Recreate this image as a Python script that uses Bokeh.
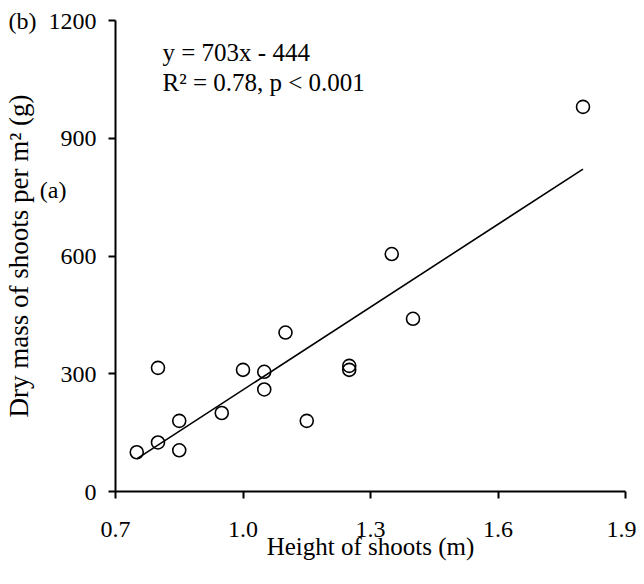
from bokeh.plotting import figure
from bokeh.models import Range1d, Label, FixedTicker, LinearAxis
from bokeh.embed import file_html
from bokeh.resources import INLINE

# Data
height_m = [0.75, 0.80, 0.85, 0.85, 0.80, 0.95, 1.00, 1.05, 1.05, 1.10, 1.15, 1.25, 1.25, 1.35, 1.40, 1.80]
dry_mass = [100, 125, 105, 180, 315, 200, 310, 305, 260, 405, 180, 320, 310, 605, 440, 980]

slope = 703
intercept = -444
fit_x = [0.75, 1.80]
fit_y = [slope * x + intercept for x in fit_x]

x_ticks = [0.7, 1.0, 1.3, 1.6, 1.9]
y_ticks = [0, 300, 600, 900, 1200]
panel_mark_b = "(b)"
panel_mark_a = "(a)"
panel_mark_a_y = 767

FONT = "Liberation Serif"
NB = "\u00a0"

p = figure(width=636, height=568, output_backend="svg", toolbar_location=None,
           x_range=Range1d(0.7, 1.9), y_range=Range1d(0, 1200),
           y_axis_location=None,
           min_border_left=115, min_border_right=11, min_border_top=20, min_border_bottom=77)

p.outline_line_color = None
p.grid.visible = False
p.background_fill_color = "white"

p.line(fit_x, fit_y, line_color="black", line_width=1.6)
p.scatter(height_m, dry_mass, marker="circle", size=13, fill_color=None,
          line_color="black", line_width=1.6)

# x axis
xa = p.xaxis[0]
xa.ticker = FixedTicker(ticks=x_ticks)
xa.major_label_overrides = {t: f"{t:.1f}" for t in x_ticks}
xa.axis_line_color = "black"
xa.axis_line_width = 2
xa.major_tick_line_color = "black"
xa.major_tick_line_width = 2
xa.major_tick_in = 0
xa.major_tick_out = 7
xa.minor_tick_line_color = None
xa.major_label_text_font = FONT
xa.major_label_text_font_size = "24px"
xa.major_label_text_color = "black"
xa.major_label_standoff = 23
xa.axis_label = "Height of shoots (m)"
xa.axis_label_text_font = FONT
xa.axis_label_text_font_size = "25px"
xa.axis_label_text_font_style = "normal"
xa.axis_label_text_color = "black"
xa.axis_label_standoff = -7

# y axis line + ticks (nearest the frame)
ya_ticks = LinearAxis(ticker=FixedTicker(ticks=y_ticks))
ya_ticks.axis_line_color = "black"
ya_ticks.axis_line_width = 2
ya_ticks.major_tick_line_color = "black"
ya_ticks.major_tick_line_width = 2
ya_ticks.major_tick_in = 0
ya_ticks.major_tick_out = 7
ya_ticks.minor_tick_line_color = None
ya_ticks.major_label_text_font_size = "0px"
ya_ticks.major_label_standoff = 0
ya_ticks.major_label_overrides = {t: "" for t in y_ticks}
p.add_layout(ya_ticks, "left")

# y tick labels, panel marks and axis title
label_ticks = y_ticks + [panel_mark_a_y]
overrides = {t: str(t) for t in y_ticks}
overrides[1200] = panel_mark_b + NB * 2 + "1200"
overrides[panel_mark_a_y] = panel_mark_a + NB * 5
ya_labels = LinearAxis(ticker=FixedTicker(ticks=label_ticks))
ya_labels.axis_line_color = None
ya_labels.major_tick_line_color = None
ya_labels.major_tick_in = 0
ya_labels.major_tick_out = 0
ya_labels.minor_tick_line_color = None
ya_labels.major_label_overrides = overrides
ya_labels.major_label_text_font = FONT
ya_labels.major_label_text_font_size = "24px"
ya_labels.major_label_text_color = "black"
ya_labels.major_label_standoff = 12
ya_labels.axis_label = "Dry mass of shoots per m\u00b2 (g)"
ya_labels.axis_label_text_font = FONT
ya_labels.axis_label_text_font_size = "27px"
ya_labels.axis_label_text_font_style = "normal"
ya_labels.axis_label_text_color = "black"
ya_labels.axis_label_standoff = -28
p.add_layout(ya_labels, "left")

eq1 = Label(x=47, y=439, x_units="screen", y_units="screen", text="y = 703x - 444",
            text_font=FONT, text_font_size="25px", text_color="black", text_baseline="alphabetic")
eq2 = Label(x=47, y=409, x_units="screen", y_units="screen", text="R\u00b2 = 0.78, p < 0.001",
            text_font=FONT, text_font_size="25px", text_color="black", text_baseline="alphabetic")
p.add_layout(eq1)
p.add_layout(eq2)

open("out.html", "w").write(file_html(p, INLINE))
